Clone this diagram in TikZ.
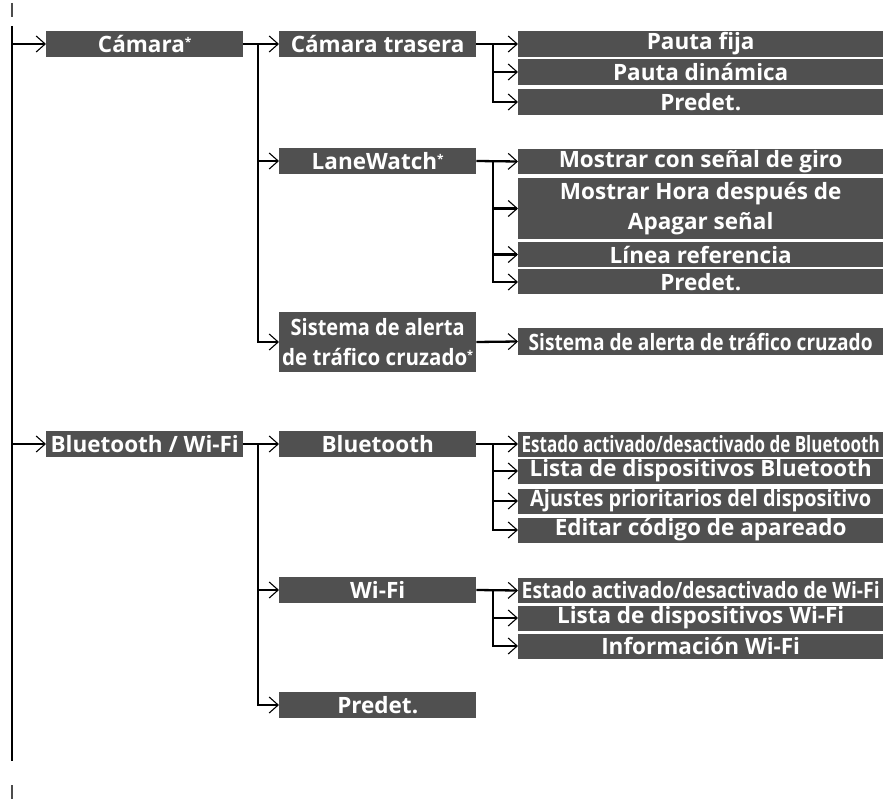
\documentclass[tikz,border=0pt]{standalone}
\usepackage{fontspec}
\setmainfont{Open Sans}
\usepackage{graphicx}
\usetikzlibrary{arrows.meta}
\definecolor{menugray}{HTML}{505050}
\newcommand\squeeze[2]{\resizebox{#1}{\height}{#2}}
\newcommand\opt{\raisebox{6pt}{\fontsize{12}{12}\selectfont *}}
\tikzset{
  menu/.style={fill=menugray,text=white,font=\fontsize{22.5}{30}\selectfont\bfseries,
    inner sep=0pt,anchor=west,align=center,minimum height=26pt},
  lvone/.style={menu,minimum width=197pt},
  lvthree/.style={menu,minimum width=365pt,minimum height=25pt},
  link/.style={line width=2.3pt},
  cutmark/.style={line width=2.3pt,black!70},
  arr/.style={link,-{Straight Barb[length=9pt,width=16pt,line width=1.1pt]}},
}
\begin{document}
\begin{tikzpicture}[x=1pt,y=-1pt]
  \useasboundingbox (0,0) rectangle (883,799);
  % trunk and branch columns
  \coordinate (top) at (12,26); \coordinate (bot) at (12,761);
  \coordinate (b1) at (258,0); \coordinate (c1) at (493,0);
  \draw[cutmark] (12,3) -- (12,17); \draw[cutmark] (12,785) -- (12,799);
  \draw[link] (top) -- (bot);

  % first level
  \node[lvone] (cam) at (46,44) {Cámara\opt};
  \node[lvone] (btwf) at (46,444) {Bluetooth / Wi-Fi};

  % second level
  \node[lvone] (camtr) at (279,44) {Cámara trasera};
  \node[lvone] (lw) at (279,161) {LaneWatch\opt};
  \node[lvone,minimum height=60pt] (cta) at (279,342) {\squeeze{174pt}{Sistema de alerta}\\\squeeze{191pt}{de tráfico cruzado\opt}};
  \node[lvone] (bt) at (279,444) {Bluetooth};
  \node[lvone] (wf) at (279,590) {Wi-Fi};
  \node[lvone] (pre) at (279,705) {Predet.};

  % third level
  \node[lvthree,minimum height=26pt] (fija) at (518,44) {Pauta fija};
  \node[lvthree,minimum height=26pt] (dinam) at (518,72) {Pauta dinámica};
  \node[lvthree,minimum height=26pt] (campre) at (518,102) {Predet.};
  \node[lvthree] (giro) at (518,161.5) {Mostrar con señal de giro};
  \node[lvthree,minimum height=61pt] (hora) at (518,208.5) {Mostrar Hora después de\\Apagar señal};
  \node[lvthree] (linea) at (518,254.5) {Línea referencia};
  \node[lvthree] (lwpre) at (518,282) {Predet.};
  \node[lvthree,minimum height=27pt] (ctaon) at (518,341.5) {\squeeze{344pt}{Sistema de alerta de tráfico cruzado}};
  \node[lvthree] (btst) at (518,444) {\squeeze{358pt}{Estado activado/desactivado de Bluetooth}};
  \node[lvthree] (btls) at (518,471) {\squeeze{342pt}{Lista de dispositivos Bluetooth}};
  \node[lvthree] (btaj) at (518,501) {\squeeze{341pt}{Ajustes prioritarios del dispositivo}};
  \node[lvthree] (bted) at (518,530) {Editar código de apareado};
  \node[lvthree] (wfst) at (518,590.5) {\squeeze{358pt}{Estado activado/desactivado de Wi-Fi}};
  \node[lvthree] (wfls) at (518,618) {Lista de dispositivos Wi-Fi};
  \node[lvthree] (wfin) at (518,646) {Información Wi-Fi};

  % connectors
  \draw[arr] (top |- cam.west) -- (cam.west);
  \draw[arr] (top |- btwf.west) -- (btwf.west);
  \draw[arr] (cam.east) -- (camtr.west);
  \draw[arr] (b1 |- cam.east) |- (lw.west);
  \draw[arr] (b1 |- cam.east) |- (cta.west);
  \draw[arr] (btwf.east) -- (bt.west);
  \draw[arr] (b1 |- btwf.east) |- (wf.west);
  \draw[arr] (b1 |- btwf.east) |- (pre.west);
  \draw[arr] (camtr.east) -- (fija.west);
  \foreach \n in {dinam,campre} \draw[arr] (c1 |- camtr.east) |- (\n.west);
  \draw[arr] (lw.east) -- (giro.west);
  \foreach \n in {hora,linea,lwpre} \draw[arr] (c1 |- lw.east) |- (\n.west);
  \draw[arr] (cta.east) -- (ctaon.west);
  \draw[arr] (bt.east) -- (btst.west);
  \foreach \n in {btls,btaj,bted} \draw[arr] (c1 |- bt.east) |- (\n.west);
  \draw[arr] (wf.east) -- (wfst.west);
  \foreach \n in {wfls,wfin} \draw[arr] (c1 |- wf.east) |- (\n.west);
\end{tikzpicture}
\end{document}
